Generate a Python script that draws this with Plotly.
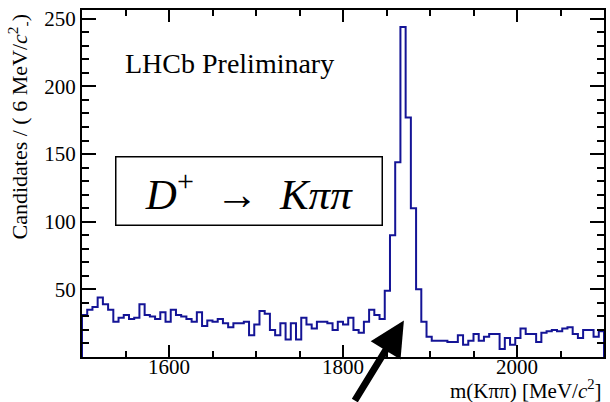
import numpy as np
import plotly.graph_objects as go

# ---- data ----
x_min, x_max, bin_width = 1500, 2100, 6
counts = [31, 35, 37, 44, 39, 35, 26, 29, 31, 28,
          29, 39, 31, 30, 28, 33, 26, 35, 31, 30,
          28, 26, 33, 23, 27, 26, 28, 25, 22, 25,
          25, 26, 16, 24, 34, 32, 20, 16, 25, 13,
          25, 13, 29, 24, 21, 26, 26, 25, 20, 26,
          24, 29, 20, 18, 26, 35, 31, 28, 49, 90,
          144, 244, 177, 110, 50, 26, 15, 12, 12, 12,
          11, 11, 16, 9, 12, 17, 12, 15, 17, 17,
          6, 14, 9, 14, 21, 17, 17, 11, 18, 19,
          20, 19, 21, 22, 17, 14, 20, 20, 15, 19]
x_ticks = [1600, 1800, 2000]
y_ticks = [50, 100, 150, 200, 250]

edges = np.arange(x_min, x_max + bin_width, bin_width)
xs = np.concatenate([[edges[0]], edges[:-1], [edges[-1], edges[-1]]])
ys = np.concatenate([[0], counts, [counts[-1], 0]])

FONT = "Liberation Serif, Times New Roman, serif"
blue = "rgb(20,20,150)"

fig = go.Figure()
fig.add_trace(go.Scatter(x=xs, y=ys, mode="lines", line=dict(color=blue, width=2, shape="hv"),
                         hoverinfo="skip", showlegend=False))

axis_common = dict(showline=True, linecolor="black", linewidth=2, mirror="allticks",
                   ticks="inside", tickcolor="black", tickwidth=2,
                   showgrid=False, zeroline=False,
                   tickfont=dict(family=FONT, size=21, color="black"))

fig.update_xaxes(range=[x_min, x_max], tickvals=x_ticks, ticklen=12, ticklabelstandoff=-10,
                 minor=dict(dtick=50, tick0=1500, ticklen=6, ticks="inside", tickcolor="black", tickwidth=1.5),
                 **axis_common)
fig.update_yaxes(range=[0, 256.5], tickvals=y_ticks, ticklen=14,
                 minor=dict(dtick=10, tick0=0, ticklen=7, ticks="inside", tickcolor="black", tickwidth=1.5),
                 **axis_common)

fig.add_annotation(text="LHCb Preliminary", xref="paper", yref="paper", x=0.078, y=0.847,
                   xanchor="left", yanchor="middle", showarrow=False,
                   font=dict(family=FONT, size=28, color="black"))

fig.add_annotation(text="<i>D</i><sup>+</sup>&nbsp;&nbsp;→&nbsp;&nbsp;<i>K</i><i>ππ</i>", xref="paper", yref="paper",
                   x=0.32, y=0.478, xanchor="center", yanchor="middle", showarrow=False,
                   width=265, height=67, borderpad=0, bordercolor="black", borderwidth=1.5,
                   bgcolor="white", font=dict(family=FONT, size=43, color="black"))

fig.add_annotation(text="m(Kππ) [MeV/<i>c</i><sup>2</sup>]", xref="paper", yref="paper",
                   x=1, y=0, xanchor="right", yanchor="top", yshift=-17, showarrow=False,
                   font=dict(family=FONT, size=21, color="black"))

fig.add_annotation(text="Candidates / ( 6 MeV/<i>c</i><sup>2</sup><sub>-</sub>)", xref="paper", yref="paper",
                   x=0, y=1, xanchor="center", yanchor="top", xshift=-63, yshift=-3, textangle=-90,
                   showarrow=False, font=dict(family=FONT, size=22, color="black"))

# arrow pointing at the peak
fig.add_annotation(x=1870, y=27, xref="x", yref="y", text="", showarrow=True,
                   arrowhead=2, arrowsize=1.0, arrowwidth=7, arrowcolor="black",
                   ax=-50, ay=100)

fig.update_layout(width=610, height=402, margin=dict(l=82, r=4, t=10, b=45),
                  plot_bgcolor="white", paper_bgcolor="white")

fig.write_html("out.html")
